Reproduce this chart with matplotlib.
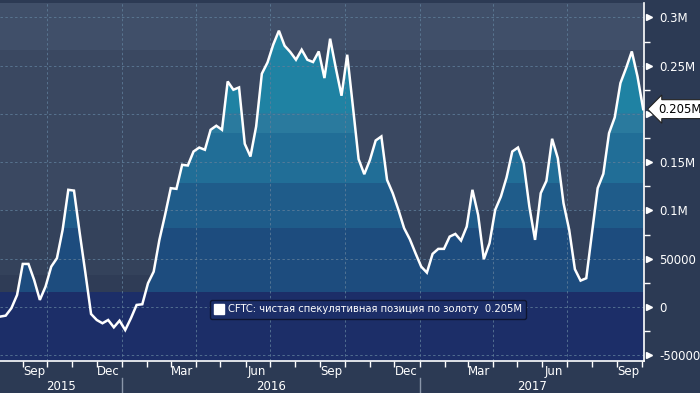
import matplotlib
matplotlib.use("Agg")
import matplotlib.pyplot as plt
import matplotlib.dates as mdates
import matplotlib.transforms as mtransforms
from matplotlib.patches import Polygon
from matplotlib.lines import Line2D
import numpy as np
import pandas as pd

plt.rcParams['font.family'] = ['DejaVu Sans']

# ---- data (weekly CFTC net speculative gold position) ----
dates = pd.date_range('2015-08-04', periods=114, freq='7D')
values = [
    -10000, -9000, -1300, 12400, 44600, 44600, 28000, 7300, 21100, 41800,
    50500, 79900, 121400, 120600, 76800, 35300, -7300, -13500, -16900, -13500,
    -21100, -14200, -23900, -11700, 2100, 2800, 24600, 36600, 69500, 95400,
    123100, 122400, 147300, 146600, 161100, 165200, 162900, 183600, 187800, 183600,
    233700, 225100, 227500, 169100, 155900, 187000, 241700, 253400, 271800, 286300,
    270700, 264200, 256200, 266600, 256200, 253800, 264800, 237200, 278000, 247600,
    218900, 261400, 207800, 153200, 137600, 152500, 172500, 176700, 131700, 117900,
    100600, 81600, 70200, 55700, 41800, 35600, 55000, 60200, 60200, 72900,
    75700, 68800, 83300, 121400, 95400, 49500, 66100, 100600, 114400, 134300,
    161100, 165200, 149100, 104000, 69500, 117900, 130700, 174300, 154200, 107600,
    79900, 39100, 27300, 29800, 76400, 123100, 138000, 180200, 196400, 232000,
    247600, 264800, 238900, 205000,
]
series_label = "CFTC: чистая спекулятивная позиция по золоту  0.205M"
last_label = "0.205M"
ytick_vals = [-50000, 0, 50000, 100000, 150000, 200000, 250000, 300000]
ytick_labels = ["-50000", "0", "50000", "0.1M", "0.15M", "0.2M", "0.25M", "0.3M"]
month_label_dates = pd.to_datetime(['2015-09-15', '2015-12-15', '2016-03-15', '2016-06-15',
                                    '2016-09-15', '2016-12-15', '2017-03-15', '2017-06-15',
                                    '2017-09-15'])
month_labels = ["Sep", "Dec", "Mar", "Jun", "Sep", "Dec", "Mar", "Jun", "Sep"]
years = [2015, 2016, 2017]

# ---- style ----
FIG_BG = '#2C3A54'
NAVY = '#1C2E68'
bg_bands = [(15000, 33000, '#2F3C56'), (33000, 100000, '#34425B'),
            (100000, 266000, '#3A4861'), (266000, 400000, '#404F69')]
fill_bands = [(-100000, 82000, '#1D4C7E'), (82000, 128000, '#1F5C8A'),
              (128000, 180000, '#216E97'), (180000, 201000, '#2A7A9E'),
              (201000, 266000, '#1F82A3'), (266000, 400000, '#228DAB')]

fig = plt.figure(figsize=(7, 3.93), dpi=100, facecolor=FIG_BG)
ax = fig.add_axes([0, (393 - 361) / 393, 644 / 700, (361 - 3) / 393])
ax.set_facecolor(FIG_BG)

ymin, ymax = -56000, 315000
xmin, xmax = dates[0], dates[-1] + pd.Timedelta(days=1)
ax.set_xlim(xmin, xmax)
ax.set_ylim(ymin, ymax)

for lo, hi, c in bg_bands:
    ax.axhspan(lo, hi, color=c, lw=0, zorder=0)

# clip polygon from the series
xnum = mdates.date2num(dates)
verts = [(xnum[0], ymin)] + list(zip(xnum, values)) + [(xnum[-1], ymin)]
poly = Polygon(verts, closed=True, facecolor='none', edgecolor='none', transform=ax.transData)
ax.add_patch(poly)
for lo, hi, c in fill_bands:
    sp = ax.axhspan(lo, hi, color=c, lw=0, zorder=1)
    sp.set_clip_path(poly)

ax.axhspan(ymin, 15000, color=NAVY, lw=0, zorder=1.5)

# grid
grid_kw = dict(color='#5F7E9A', lw=0.7, ls=(0, (2.5, 2.5)), alpha=0.8, zorder=1.8)
for v in ytick_vals:
    ax.axhline(v, **grid_kw)
for d in pd.date_range('2015-10-01', '2017-09-30', freq='QS'):
    ax.axvline(d, **grid_kw)

ax.plot(dates, values, color='white', lw=1.8, zorder=3, solid_joinstyle='miter')

# spines
for s in ['top', 'left']:
    ax.spines[s].set_visible(False)
ax.spines['bottom'].set_color('white')
ax.spines['right'].set_color('white')
ax.spines['bottom'].set_linewidth(1.2)
ax.spines['right'].set_linewidth(1.2)

# y axis
ax.yaxis.tick_right()
ax.set_yticks(ytick_vals)
ax.set_yticklabels(ytick_labels)
ax.set_yticks(np.array(ytick_vals[:-1]) + 25000, minor=True)
ax.tick_params(axis='y', which='major', length=0, pad=11, labelsize=8.5, labelcolor='white')
ax.tick_params(axis='y', which='minor', length=4, width=1, color='white', direction='out')
trans_y = mtransforms.blended_transform_factory(ax.transAxes, ax.transData)
ax.plot([1.0] * len(ytick_vals), ytick_vals, ls='none', marker='>', ms=5, color='white',
        transform=mtransforms.offset_copy(trans_y, fig=fig, x=5, units='dots'),
        clip_on=False, zorder=4)

# x axis
ax.set_xticks(month_label_dates)
ax.set_xticklabels(month_labels)
ax.xaxis.set_minor_locator(mdates.MonthLocator())
ax.tick_params(axis='x', which='major', length=0, pad=3, labelsize=8.5, labelcolor='white')
ax.tick_params(axis='x', which='minor', length=4, width=1, color='white', direction='out')

trans_x = mtransforms.blended_transform_factory(ax.transData, ax.transAxes)
xl = ax.get_xlim()
for yr in years:
    a = max(mdates.date2num(pd.Timestamp(f'{yr}-01-01')), xl[0])
    b = min(mdates.date2num(pd.Timestamp(f'{yr + 1}-01-01')), xl[1])
    ax.text((a + b) / 2, -0.072, str(yr), transform=trans_x, ha='center', va='center',
            color='white', fontsize=8.5, clip_on=False)
for yr in years[1:]:
    d = mdates.date2num(pd.Timestamp(f'{yr}-01-01'))
    ax.plot([d, d], [-0.047, -0.095], transform=trans_x, color='#8A96AA', lw=1, clip_on=False)

# last value callout
ax.annotate(last_label, xy=(1.0, values[-1]), xycoords=trans_y,
            xytext=(10, 0), textcoords='offset points', ha='left', va='center',
            fontsize=8.5, color='black',
            bbox=dict(boxstyle='larrow,pad=0.25', fc='white', ec='#222222', lw=0.8),
            annotation_clip=False, zorder=6)

# legend
h = Line2D([], [], ls='none', marker='s', ms=7, color='white')
leg = ax.legend([h], [series_label], loc='center', bbox_to_anchor=(0.572, 0.144),
                fontsize=7.2, frameon=True, facecolor=NAVY, edgecolor='#0E1530',
                framealpha=1, handlelength=0.8, handletextpad=0.5, borderpad=0.45,
                fancybox=True)
for t in leg.get_texts():
    t.set_color('white')
leg.get_frame().set_linewidth(1.0)
leg.set_zorder(5)

fig.savefig('out.png', dpi=100, facecolor=FIG_BG)
